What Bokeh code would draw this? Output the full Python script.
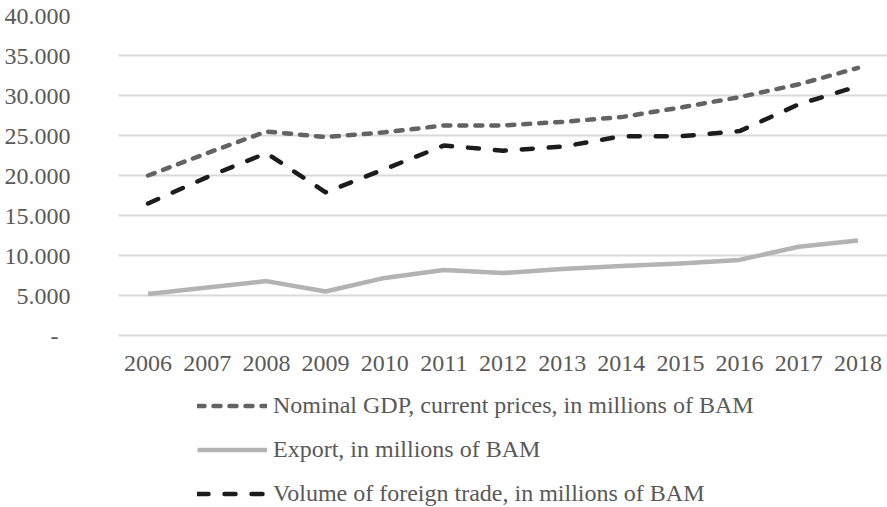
from bokeh.plotting import figure
from bokeh.models import FactorRange, Range1d, FixedTicker, Legend, LegendItem
from bokeh.core.properties import value
from bokeh.embed import file_html
from bokeh.resources import INLINE

years = ["2006", "2007", "2008", "2009", "2010", "2011", "2012",
         "2013", "2014", "2015", "2016", "2017", "2018"]

nominal_gdp = [20000, 22800, 25500, 24800, 25400, 26250, 26250,
               26700, 27300, 28500, 29800, 31400, 33450]
export = [5200, 6000, 6800, 5500, 7200, 8200, 7800,
          8300, 8700, 9000, 9450, 11100, 11880]
foreign_trade = [16500, 19800, 22800, 17900, 20800, 23750, 23100,
                 23600, 24900, 24900, 25550, 28900, 31150]

y_ticks = [0, 5000, 10000, 15000, 20000, 25000, 30000, 35000, 40000]
y_tick_labels = ["-\u2007", "5.000", "10.000", "15.000", "20.000",
                 "25.000", "30.000", "35.000", "40.000"]

series_labels = ["Nominal GDP, current prices, in millions of BAM",
                 "Export, in millions of BAM",
                 "Volume of foreign trade, in millions of BAM"]

FONT = "Liberation Serif"
TEXT_COLOR = "#595959"
FONT_SIZE = "24px"

# The frame runs down to the bottom of the page so that the year labels
# and the legend can sit underneath the value range; only 0..40 000 gets
# ticks and grid lines.
Y_BOTTOM = -21500
YEAR_LABEL_Y = -3500

p = figure(width=887, height=507, x_range=FactorRange(*years, range_padding=0),
           y_range=Range1d(Y_BOTTOM, 40000), output_backend="svg",
           toolbar_location=None,
           min_border_left=118, min_border_right=0, min_border_top=15,
           min_border_bottom=0)
p.outline_line_color = None
p.background_fill_color = "white"
p.border_fill_color = "white"

# grid
p.xgrid.grid_line_color = None
p.ygrid.grid_line_color = "#d9d9d9"
p.ygrid.grid_line_width = 2

# y axis
p.yaxis.ticker = FixedTicker(ticks=y_ticks)
p.yaxis.major_label_overrides = {t: lab for t, lab in zip(y_ticks, y_tick_labels)}
p.yaxis.axis_line_color = None
p.yaxis.major_tick_line_color = None
p.yaxis.minor_tick_line_color = None
p.yaxis.major_label_standoff = 42
p.yaxis.major_label_text_font = FONT
p.yaxis.major_label_text_font_size = FONT_SIZE
p.yaxis.major_label_text_color = TEXT_COLOR

# category labels under the value range
p.xaxis.visible = False
p.text(x=years, y=[YEAR_LABEL_Y] * len(years), text=years,
       text_font=value(FONT), text_font_size=FONT_SIZE, text_color=TEXT_COLOR,
       text_align="center", text_baseline="middle")

r_gdp = p.line(years, nominal_gdp, line_color="#636363", line_width=4.5,
               line_dash="7 9", line_cap="round", line_join="round")
r_exp = p.line(years, export, line_color="#b3b3b3", line_width=4.5,
               line_join="round")
r_trade = p.line(years, foreign_trade, line_color="#1c1c1c", line_width=4.5,
                 line_dash="11 16", line_cap="round", line_join="round")

legend = Legend(items=[LegendItem(label=series_labels[0], renderers=[r_gdp]),
                       LegendItem(label=series_labels[1], renderers=[r_exp]),
                       LegendItem(label=series_labels[2], renderers=[r_trade])],
                orientation="vertical", location=(79, 0),
                glyph_width=70, glyph_height=27, label_standoff=6,
                label_height=27,
                spacing=17, padding=0, margin=0,
                border_line_alpha=0, background_fill_alpha=0,
                label_text_font=FONT, label_text_font_size=FONT_SIZE,
                label_text_color=TEXT_COLOR)
p.add_layout(legend, "center")

open("out.html", "w").write(file_html(p, INLINE))
